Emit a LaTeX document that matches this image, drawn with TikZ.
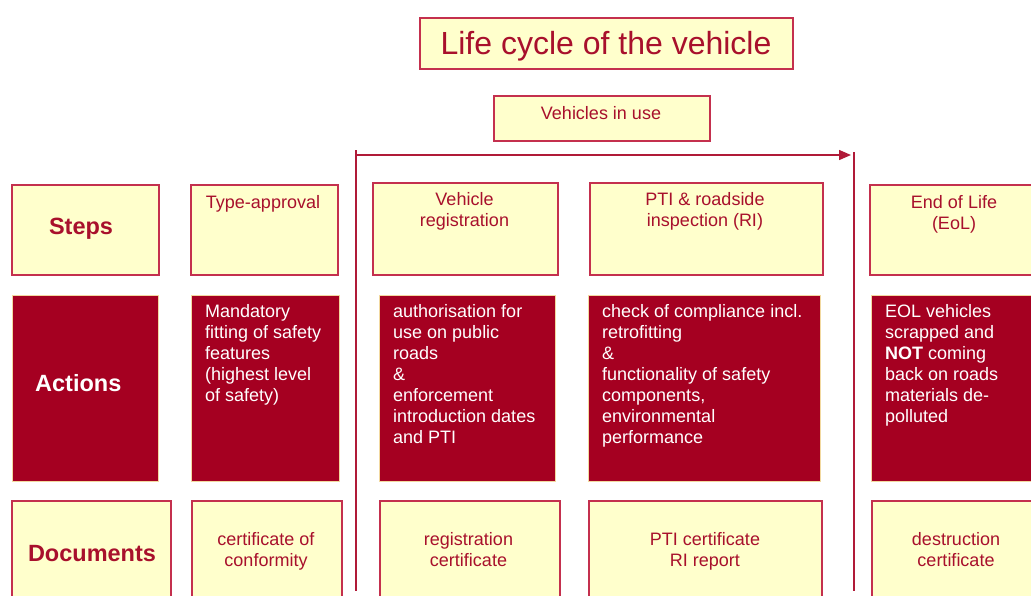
\documentclass[tikz,border=0pt]{standalone}
\usepackage{fontspec}
\setmainfont{Liberation Sans}
\usetikzlibrary{arrows.meta}
\definecolor{boxfill}{HTML}{FFFFCC}
\definecolor{boxline}{HTML}{C4304E}
\definecolor{txtred}{HTML}{A8102C}
\definecolor{actfill}{HTML}{A50021}
\definecolor{actline}{HTML}{F2D9A0}
\definecolor{linered}{HTML}{B01A38}
\begin{document}
\begin{tikzpicture}[x=1pt,y=-1pt,
  ybox/.style={draw=boxline, fill=boxfill, line width=1.6pt, anchor=north west, inner sep=0pt},
  abox/.style={draw=actline, fill=actfill, line width=0.8pt, anchor=north west, inner sep=0pt},
  small/.style={font=\fontsize{18}{21}\selectfont, text=txtred, align=center, inner sep=0pt, anchor=north},
  atext/.style={font=\fontsize{18}{21}\selectfont, text=white, align=left, anchor=north west, inner sep=0pt},
  head/.style={font=\fontsize{23.5}{26}\selectfont\bfseries, inner sep=0pt, anchor=base},
  vline/.style={draw=linered, line width=1.4pt},
]
\useasboundingbox (0,0) rectangle (1031,595);
\fill[white] (0,0) rectangle (1031,595);

% title
\node[ybox, minimum width=373pt, minimum height=51pt] (title) at (419,17) {};
\node[font=\fontsize{32}{36}\selectfont, text=txtred, inner sep=0pt, anchor=base] (titletxt) at (606,54) {Life cycle of the vehicle};

% vehicles in use
\node[ybox, minimum width=216pt, minimum height=45pt] (inuse) at (493,95) {};
\node[small, anchor=base] (inusetxt) at (601,119.3) {Vehicles in use};

% arrow and vertical lines
\coordinate (aL) at (356,155);
\coordinate (aR) at (851,155);
\coordinate (vLt) at (356,150);
\coordinate (vLb) at (356,591);
\coordinate (vRt) at (854,152);
\coordinate (vRb) at (854,591);
\draw[vline] (vLt) -- (vLb);
\draw[vline] (vRt) -- (vRb);
\draw[vline, -{Triangle[length=12pt,width=10pt]}] (aL) -- (aR);

% steps row
\node[ybox, minimum width=147pt, minimum height=90pt] (steps) at (11,184) {};
\node[head, text=txtred] (stepstxt) at (81,234) {Steps};
\node[ybox, minimum width=147pt, minimum height=90pt] (ta) at (190,184) {};
\node[small] (tatxt) at (263,195) {Type-approval};
\node[ybox, minimum width=185pt, minimum height=92pt] (vr) at (372,182) {};
\node[small] (vrtxt) at (464.5,192) {Vehicle\\registration};
\node[ybox, minimum width=233pt, minimum height=92pt] (pti) at (589,182) {};
\node[small] (ptitxt) at (705,192) {PTI \& roadside\\inspection (RI)};
\node[ybox, minimum width=200pt, minimum height=90pt] (eol) at (869,184) {};
\node[small] (eoltxt) at (954,195) {End of Life\\(EoL)};

% actions row
\node[abox, minimum width=146pt, minimum height=186pt] (act) at (12,295) {};
\node[head, text=white] (acttxt) at (78.3,391.7) {Actions};
\node[abox, minimum width=148pt, minimum height=186pt] (man) at (191,295) {};
\node[atext] (mantxt) at (205,304) {Mandatory\\fitting of safety\\features\\(highest level\\of safety)};
\node[abox, minimum width=176pt, minimum height=186pt] (auth) at (379,295) {};
\node[atext] (authtxt) at (393,304) {authorisation for\\use on public\\roads\\\&\\enforcement\\introduction dates\\and PTI};
\node[abox, minimum width=232pt, minimum height=186pt] (chk) at (588,295) {};
\node[atext] (chktxt) at (602,304) {check of compliance incl.\\retrofitting\\\&\\functionality of safety\\components,\\environmental\\performance};
\node[abox, minimum width=200pt, minimum height=186pt] (eola) at (871,295) {};
\node[atext] (eolatxt) at (885,304) {EOL vehicles\\scrapped and\\\textbf{NOT} coming\\back on roads\\materials de-\\polluted};

% documents row
\node[ybox, minimum width=159pt, minimum height=120pt] (doc) at (11,500) {};
\node[head, text=txtred] (doctxt) at (92,561) {Documents};
\node[ybox, minimum width=150pt, minimum height=120pt] (coc) at (191,500) {};
\node[small] (coctxt) at (266,532) {certificate of\\conformity};
\node[ybox, minimum width=180pt, minimum height=120pt] (reg) at (379,500) {};
\node[small] (regtxt) at (468.5,532) {registration\\certificate};
\node[ybox, minimum width=233pt, minimum height=120pt] (ptic) at (588,500) {};
\node[small] (ptictxt) at (705,532) {PTI certificate\\RI report};
\node[ybox, minimum width=200pt, minimum height=120pt] (dest) at (871,500) {};
\node[small] (desttxt) at (956,532) {destruction\\certificate};
\end{tikzpicture}
\end{document}
